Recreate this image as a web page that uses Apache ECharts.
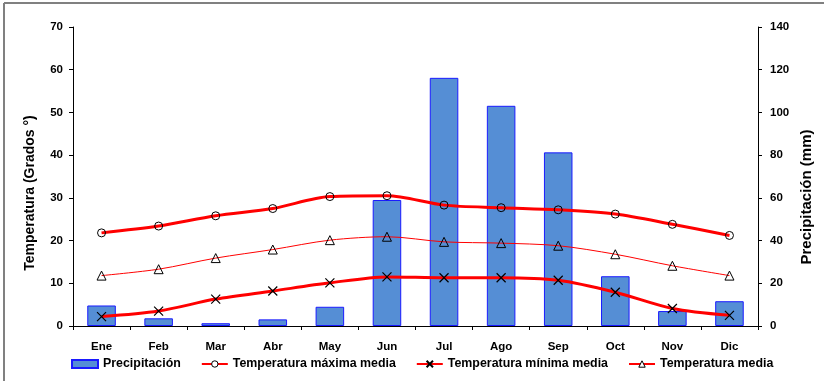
<!DOCTYPE html>
<html>
<head>
<meta charset="utf-8">
<script src="https://cdn.jsdelivr.net/npm/echarts@6/dist/echarts.min.js"></script>
<style>html,body{margin:0;padding:0;background:#fff;}#c{width:824px;height:381px;}</style>
</head>
<body>
<div id="c"></div>
<script>
const months = ['Ene','Feb','Mar','Abr','May','Jun','Jul','Ago','Sep','Oct','Nov','Dic'];
const precip = [9.6, 3.6, 1.3, 3.1, 9.0, 59.0, 116.2, 103.1, 81.3, 23.3, 7.0, 11.6];
const tMax = [21.8, 23.4, 25.8, 27.5, 30.3, 30.5, 28.3, 27.7, 27.2, 26.2, 23.8, 21.2];
const tMin = [2.2, 3.5, 6.3, 8.2, 10.1, 11.5, 11.3, 11.3, 10.7, 7.9, 4.1, 2.5];
const tMed = [11.8, 13.3, 15.9, 17.9, 20.1, 20.9, 19.7, 19.4, 18.8, 16.8, 14.1, 11.8];
const leftName = 'Temperatura (Grados °)';
const rightName = 'Precipitación (mm)';

const F = 'Liberation Sans, Arial, sans-serif';
const chart = echarts.init(document.getElementById('c'), null, {renderer:'canvas'});
const axisCommon = {
  axisLine:{show:true, lineStyle:{color:'#000', width:1}},
  axisTick:{show:true, length:4, lineStyle:{color:'#000'}},
  splitLine:{show:false},
  axisLabel:{color:'#000', fontWeight:'bold', fontSize:11.5, fontFamily:F, margin:10}
};
const hollow = {color:'#fff', borderColor:'#000', borderWidth:1};
chart.setOption({
  animation:false,
  graphic:[
    {type:'line', shape:{x1:4, y1:3, x2:4, y2:381}, style:{stroke:'#808080', lineWidth:2}},
    {type:'line', shape:{x1:4, y1:3, x2:824, y2:3}, style:{stroke:'#808080', lineWidth:2}},
    {type:'text', x:30, y:193, rotation:Math.PI/2, style:{text:leftName, fill:'#000', font:'bold 14px '+F, align:'center', verticalAlign:'middle'}},
    {type:'text', x:807, y:197, rotation:Math.PI/2, style:{text:rightName, fill:'#000', font:'bold 15px '+F, align:'center', verticalAlign:'middle'}}
  ],
  grid:{left:73, right:66, top:27, bottom:55},
  legend:{
    bottom:6, left:66, itemGap:20, itemWidth:26, itemHeight:8,
    textStyle:{color:'#000', fontSize:12.4, fontWeight:'bold', fontFamily:F},
    data:[
      {name:'Precipitación', icon:'rect'},
      {name:'Temperatura máxima media', itemStyle:hollow},
      {name:'Temperatura mínima media'},
      {name:'Temperatura media', itemStyle:hollow}
    ]
  },
  xAxis:{type:'category', data:months,
    axisLine:{lineStyle:{color:'#000'}},
    axisTick:{show:true, length:4, alignWithLabel:false, lineStyle:{color:'#000'}},
    axisLabel:{color:'#000', fontWeight:'bold', fontSize:11.5, fontFamily:F, margin:15}},
  yAxis:[
    Object.assign({}, axisCommon, {type:'value', min:0, max:70, interval:10, position:'left'}),
    Object.assign({}, axisCommon, {type:'value', min:0, max:140, interval:20, position:'right', axisLabel:Object.assign({}, axisCommon.axisLabel, {margin:12})})
  ],
  series:[
    {name:'Precipitación', type:'bar', yAxisIndex:1, data:precip, barWidth:'50%',
      itemStyle:{color:'#558ED5', borderColor:'#1A1AFF', borderWidth:1}, z:1},
    {name:'Temperatura máxima media', type:'line', data:tMax, smooth:0.3, symbol:'circle', symbolSize:8,
      lineStyle:{color:'#FF0000', width:3}, itemStyle:{color:'rgba(255,255,255,0)', borderColor:'#000', borderWidth:1}, z:3},
    {name:'Temperatura mínima media', type:'line', data:tMin, smooth:0.3,
      symbol:'path://M0,0L10,10M10,0L0,10', symbolSize:9,
      lineStyle:{color:'#FF0000', width:3}, itemStyle:{color:'none', borderColor:'#000', borderWidth:1.2}, z:3},
    {name:'Temperatura media', type:'line', data:tMed, smooth:0.3, symbol:'triangle', symbolSize:9,
      lineStyle:{color:'#FF0000', width:1}, itemStyle:{color:'rgba(255,255,255,0)', borderColor:'#000', borderWidth:1}, z:3}
  ]
});
</script>
</body>
</html>
